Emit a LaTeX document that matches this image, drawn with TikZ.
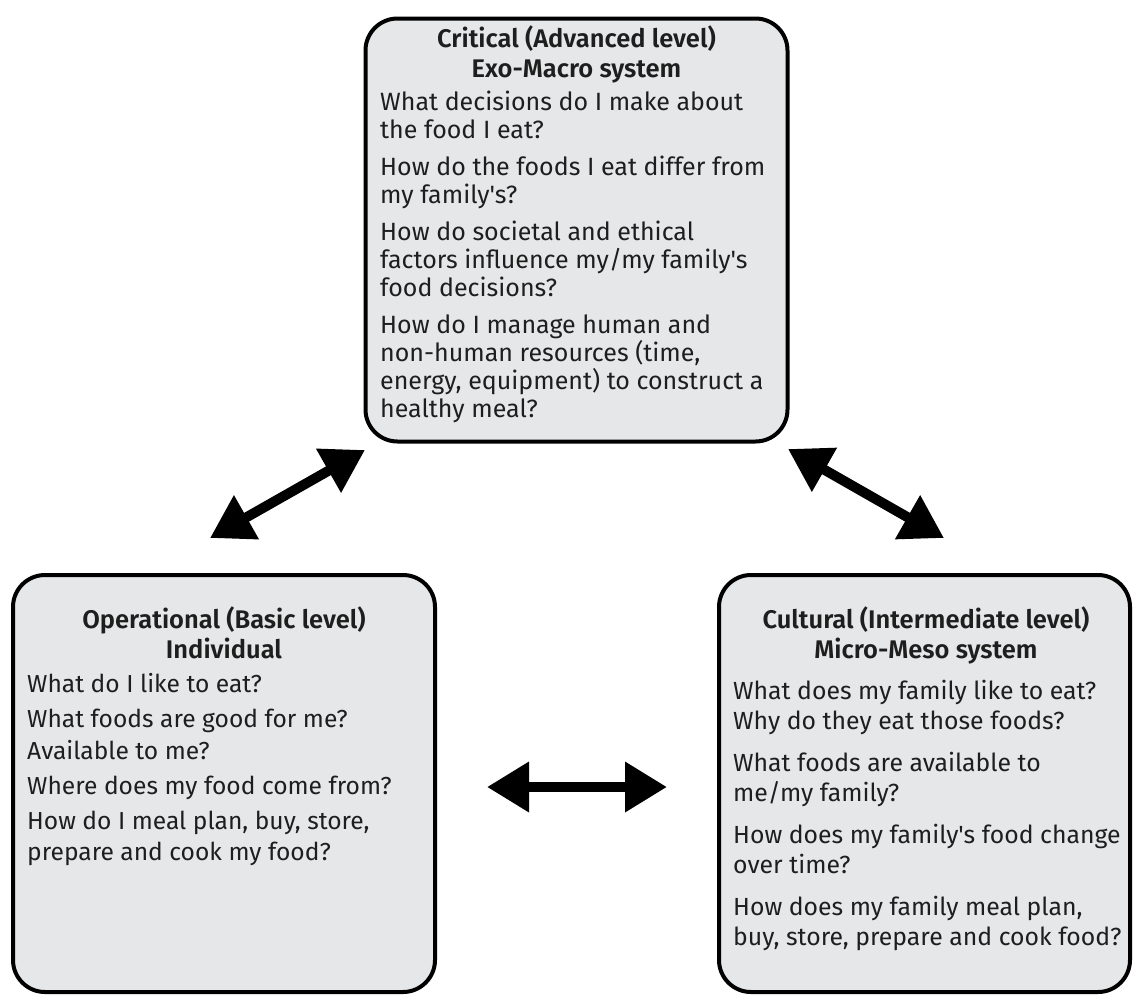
\documentclass[tikz,border=0pt]{standalone}
\usepackage{fontspec}
\setmainfont{Fira Sans}[Ligatures=TeXOff,BoldFont={Fira Sans SemiBold}]
\usepackage{tikz}
\usetikzlibrary{arrows.meta,positioning}
\definecolor{panelgray}{HTML}{E6E7E8}
\definecolor{inkgray}{HTML}{1E1E1E}
\tikzstyle{panel}=[draw=black,fill=panelgray,line width=4pt,rounded corners=32pt,inner sep=0pt]
\tikzstyle{headtxt}=[font=\fontsize{25.5}{30}\selectfont\bfseries,text=inkgray,align=center,anchor=north,inner sep=0pt]
\tikzstyle{bodytxt}=[text=inkgray,align=left,anchor=north west,inner sep=0pt]

\begin{document}
\begin{tikzpicture}
  [x=1pt,y=-1pt]
\useasboundingbox (0,0) rectangle (1133,994);
\node[panel,minimum width=422pt,minimum height=423pt] (crit) at (576.5,230) {};
\node[panel,minimum width=422pt,minimum height=417pt] (oper) at (224,783.5) {};
\node[panel,minimum width=411pt,minimum height=417pt] (cult) at (924.5,783.5) {};
% titles
\node[headtxt] (ct) at (576.5,25) {Critical (Advanced level)\\Exo-Macro system};
\node[headtxt] (ot) at (224,606) {Operational (Basic level)\\Individual};
\node[headtxt] (ut) at (926,606) {Cultural (Intermediate level)\\Micro-Meso system};
% questions
\node[bodytxt,font=\fontsize{25}{28}\selectfont] (cq) at (380,90.5)
  {What decisions do I make about\\the food I eat?\\[9pt]
   How do the foods I eat differ from\\my family's?\\[9pt]
   How do societal and ethical\\factors influence my/my family's\\food decisions?\\[9pt]
   How do I manage human and\\non-human resources (time,\\energy, equipment) to construct a\\healthy meal?};
\node[bodytxt,font=\fontsize{24.6}{31.5}\selectfont] (oq) at (27,673.5)
  {What do I like to eat?\\[3.5pt]
   What foods are good for me?\\Available to me?\\[3.5pt]
   Where does my food come from?\\[3.5pt]
   How do I meal plan, buy, store,\\prepare and cook my food?};
\node[bodytxt,font=\fontsize{24.8}{30}\selectfont] (uq) at (733,679.5)
  {What does my family like to eat?\\Why do they eat those foods?\\[12pt]
   What foods are available to\\me/my family?\\[12pt]
   How does my family's food change\\over time?\\[12pt]
   How does my family meal plan,\\buy, store, prepare and cook food?};
% arrows
\coordinate (l1) at (210,538);
\coordinate (l2) at (365,450);
\coordinate (r1) at (788,449);
\coordinate (r2) at (944,538);
\coordinate (h1) at (487,787);
\coordinate (h2) at (667,787);
\path[<->,line width=10pt,>={Triangle[length=42pt,width=48pt]}]
(l1) edge (l2)
(r1) edge (r2)
(h1) edge (h2);
\end{tikzpicture}
\end{document}
